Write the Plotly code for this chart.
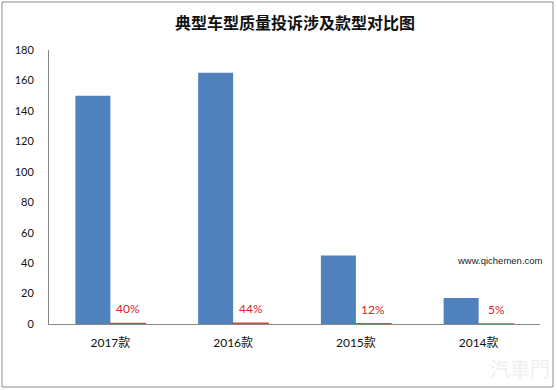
import plotly.graph_objects as go

categories = ["2017款", "2016款", "2015款", "2014款"]
complaints = [150, 165, 45, 17]
shares = [0.40, 0.44, 0.12, 0.05]
share_labels = ["40%", "44%", "12%", "5%"]
y_ticks = [0, 20, 40, 60, 80, 100, 120, 140, 160, 180]

W, H = 557, 390
L, R, T, B = 49, 17, 50, 66
pw, ph = W - L - R, H - T - B

def px_x(p):
    return (p - L) / pw

def px_y(p):
    return (H - B - p) / ph

latin = "Lato, 'Noto Sans CJK SC', sans-serif"
cjk = "'Noto Sans CJK SC', sans-serif"

fig = go.Figure()
fig.add_trace(go.Bar(x=categories, y=complaints, marker=dict(color="#4f81bd", line=dict(width=0)),
                     hoverinfo="skip", name="投诉量"))
fig.add_trace(go.Bar(x=categories, y=shares, marker=dict(color="#c0504d", line=dict(color="#c0504d", width=1.5)),
                     hoverinfo="skip", name="占比"))

annotations = []
for c, s, lab in zip(categories, shares, share_labels):
    annotations.append(dict(x=c, y=s, xref="x", yref="y", text=lab, showarrow=False,
                            xshift=17.5, yanchor="bottom", yshift=5,
                            font=dict(family=latin, size=12, color="#e0202a")))

annotations.append(dict(x=0.5, y=px_y(22), xref="paper", yref="paper", text="<b>典型车型质量投诉涉及款型对比图</b>",
                        showarrow=False, xanchor="center", yanchor="middle",
                        font=dict(family=cjk, size=16, color="#111111")))
annotations.append(dict(x=px_x(500), y=px_y(260), xref="paper", yref="paper", text="www.qichemen.com",
                        showarrow=False, xanchor="center", yanchor="middle",
                        font=dict(family="'Liberation Sans', sans-serif", size=9.5, color="#222222")))
annotations.append(dict(x=px_x(520), y=px_y(368), xref="paper", yref="paper", text="汽車門",
                        showarrow=False, xanchor="center", yanchor="middle",
                        font=dict(family=cjk, size=20, color="#efefef")))

shapes = [dict(type="rect", xref="paper", yref="paper", x0=px_x(2), x1=px_x(553), y0=px_y(2), y1=px_y(387),
               line=dict(color="#8c8c8c", width=1), fillcolor="rgba(0,0,0,0)", layer="below")]

fig.update_layout(
    width=W, height=H,
    margin=dict(l=L, r=R, t=T, b=B),
    paper_bgcolor="white", plot_bgcolor="white",
    barmode="group", bargap=0.43, bargroupgap=0,
    showlegend=False,
    annotations=annotations,
    shapes=shapes,
    xaxis=dict(showgrid=False, showline=True, linecolor="#868686", linewidth=1,
               ticks="", tickfont=dict(family=latin, size=12, color="#111111"),
               ticklabelstandoff=8, fixedrange=True),
    yaxis=dict(range=[0, 180], tickvals=y_ticks, showgrid=False, zeroline=False,
               showline=True, linecolor="#868686", linewidth=1, ticks="",
               tickfont=dict(family=latin, size=11, color="#111111"),
               ticklabelstandoff=12, fixedrange=True),
)

fig.write_html("out.html", config={"displayModeBar": False})
